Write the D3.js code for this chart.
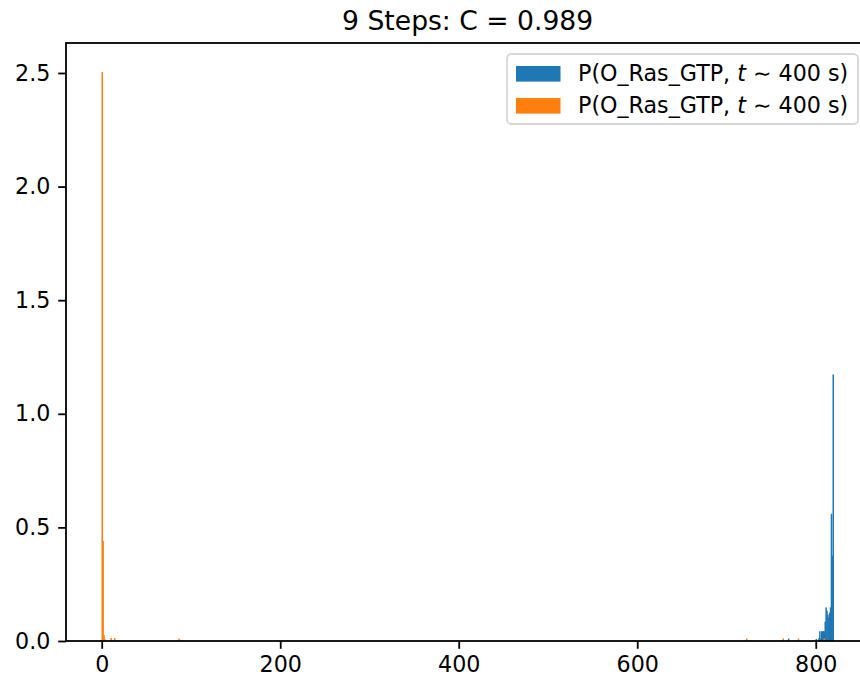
<!DOCTYPE html>
<html>
<head>
<meta charset="utf-8">
<script src="https://cdn.jsdelivr.net/npm/d3@7/dist/d3.min.js"></script>
<style>
  html, body { margin: 0; padding: 0; background: #ffffff; }
  svg { display: block; font-family: "DejaVu Sans", sans-serif; }
</style>
</head>
<body>
<svg id="chart" width="860" height="681"></svg>
<script>
// Histogram of O_Ras_GTP counts at t ~ 400 s (probability density per bin)
const title = "9 Steps: C = 0.989";
const seriesLabels = ["P(O_Ras_GTP, ", "t", " \u223C 400 s)"];

// Series 1 (blue): bin centres and densities
const blueBins = [769, 800, 803, 804, 805, 806, 807, 808, 809, 810, 811, 812, 813, 814, 815, 816, 817, 818, 819];
const blueValues = [0.011, 0.009, 0.012, 0.043, 0.012, 0.043, 0.043, 0.043, 0.043, 0.085, 0.148, 0.133, 0.116, 0.104, 0.125, 0.148, 0.56, 0.376, 1.173];

// Series 2 (orange): bin centres and densities
const orangeBins = [0, 1, 2, 3, 10, 14, 86, 722, 763, 780, 809];
const orangeValues = [2.504, 0.44, 0.026, 0.008, 0.013, 0.013, 0.011, 0.011, 0.011, 0.011, 0.011];

const xTicks = [0, 200, 400, 600, 800];
const yTicks = [0.0, 0.5, 1.0, 1.5, 2.0, 2.5];

const binWidth = 1;
const colors = ["#1f77b4", "#ff7f0e"];

const svg = d3.select("#chart");
const plot = { left: 66, right: 869.3, top: 43, bottom: 641 };

const x = d3.scaleLinear().domain([-40, 860]).range([plot.left, plot.right]);
const y = d3.scaleLinear().domain([0, 2.632]).range([plot.bottom, plot.top]);

const tickFont = 22.2;

// Bars: each bin is drawn at least 1.5px wide so single bins stay visible
function drawBars(bins, values, color) {
  svg.append("g")
    .selectAll("rect")
    .data(bins.map((b, i) => ({ b, v: values[i] })))
    .join("rect")
    .attr("x", d => x(d.b) - 0.2)
    .attr("width", d => Math.max(1.5, x(d.b + binWidth) - x(d.b)))
    .attr("y", d => y(d.v))
    .attr("height", d => y(0) - y(d.v))
    .attr("fill", color);
}
drawBars(blueBins, blueValues, colors[0]);
drawBars(orangeBins, orangeValues, colors[1]);

// Axes
const xAxis = d3.axisBottom(x).tickValues(xTicks).tickFormat(d3.format("d"))
  .tickSize(7.8).tickPadding(7.8);
const yAxis = d3.axisLeft(y).tickValues(yTicks).tickFormat(d3.format(".1f"))
  .tickSize(7.8).tickPadding(7.8);

const gx = svg.append("g").attr("transform", `translate(0,${plot.bottom})`).call(xAxis);
const gy = svg.append("g").attr("transform", `translate(${plot.left},0)`).call(yAxis);
[gx, gy].forEach(g => {
  g.select(".domain").remove();
  g.selectAll(".tick line").attr("stroke", "#000").attr("stroke-width", 1.8);
  g.selectAll(".tick text").attr("fill", "#000")
    .style("font-family", "DejaVu Sans").style("font-size", tickFont + "px");
});

// Spines
svg.append("rect")
  .attr("x", plot.left).attr("y", plot.top)
  .attr("width", plot.right - plot.left).attr("height", plot.bottom - plot.top)
  .attr("fill", "none").attr("stroke", "#000").attr("stroke-width", 1.8);

// Title
svg.append("text")
  .attr("x", (plot.left + plot.right) / 2).attr("y", 29.7)
  .attr("text-anchor", "middle")
  .style("font-size", "26.6px")
  .text(title);

// Legend
const lg = svg.append("g");
lg.append("rect")
  .attr("x", 507).attr("y", 54).attr("width", 351).attr("height", 70)
  .attr("rx", 4.4).attr("fill", "#fff").attr("fill-opacity", 0.8)
  .attr("stroke", "#d6d6d6").attr("stroke-width", 1.8);
colors.forEach((c, i) => {
  const rowY = 66 + i * 32;
  lg.append("rect").attr("x", 516).attr("y", rowY).attr("width", 44.5).attr("height", 15.6).attr("fill", c);
  const t = lg.append("text").attr("x", 578).attr("y", rowY + 15)
    .style("font-size", tickFont + "px");
  t.append("tspan").text(seriesLabels[0]);
  t.append("tspan").attr("font-style", "italic").text(seriesLabels[1]);
  t.append("tspan").text(seriesLabels[2]);
});
</script>
</body>
</html>
